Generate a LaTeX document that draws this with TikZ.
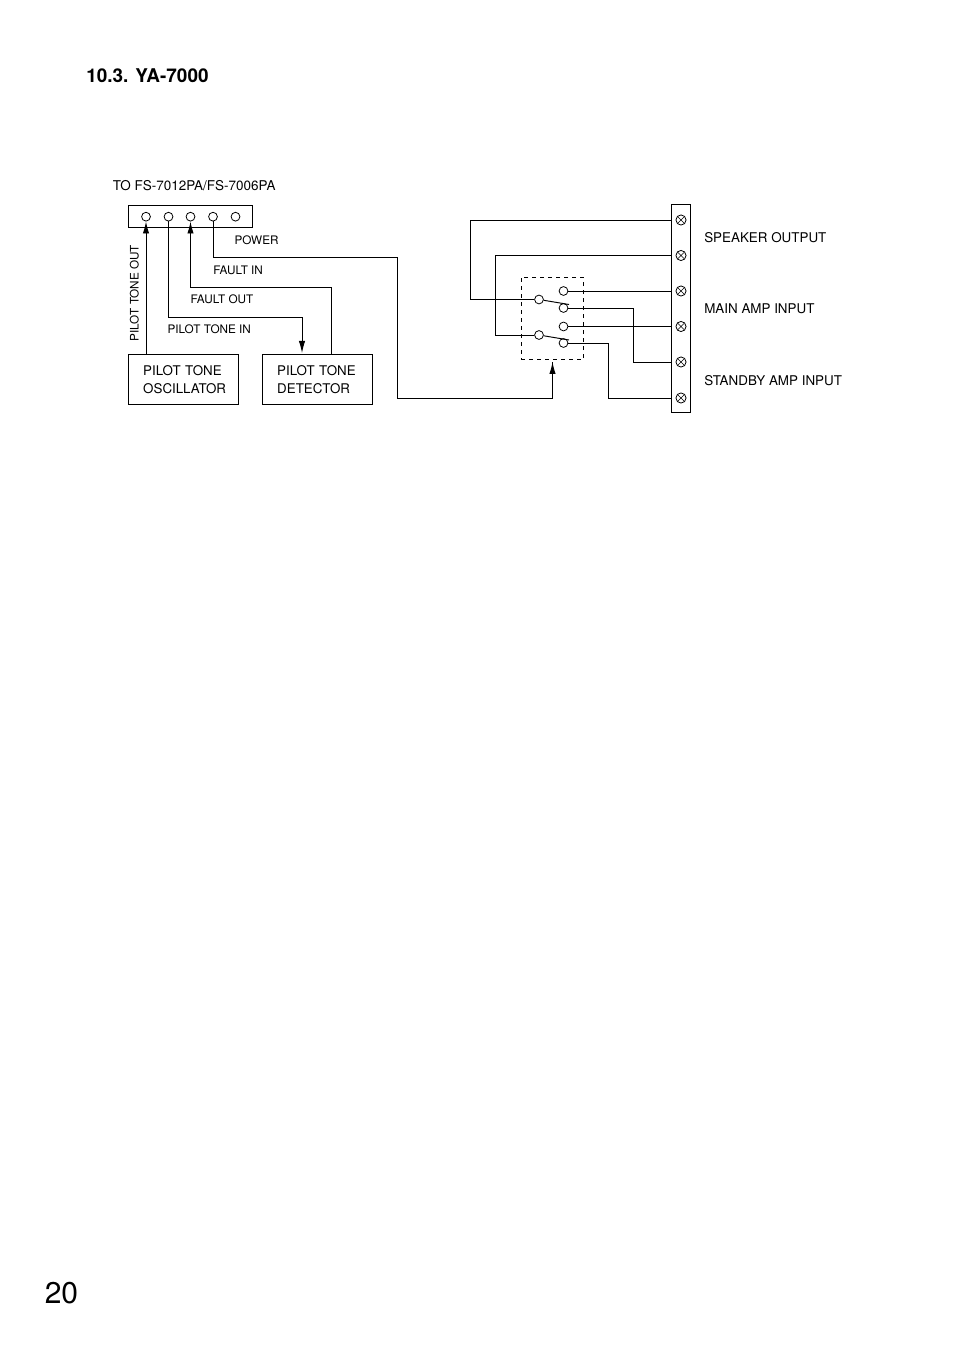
\documentclass[tikz,border=0pt]{standalone}
\usepackage{fontspec}
\usepackage{graphicx, tikz}
\usetikzlibrary{arrows.meta}
\setmainfont{TeX Gyre Heros}

\tikzset{
  wire/.style={line width=0.7pt},
  arrowwire/.style={wire, -{Latex[length=9pt,width=4.8pt]}},
  pin/.style={circle, draw, line width=0.6pt, fill=white, minimum size=6.6pt, inner sep=0pt},
  screw/.style={circle, draw, line width=0.6pt, minimum size=7.6pt, inner sep=0pt,
    path picture={\draw[line width=0.5pt] (path picture bounding box.north west)--(path picture bounding box.south east)
      (path picture bounding box.north east)--(path picture bounding box.south west);}},
  unitbox/.style={draw, line width=0.7pt, minimum width=82.5pt, minimum height=37.5pt, inner xsep=11pt, inner ysep=0pt,
    text width=60.4pt, align=left, font=\fontsize{10}{13.5}\selectfont},
  smalllabel/.style={anchor=base west, inner sep=0pt, font=\fontsize{8.8}{10}\selectfont},
  biglabel/.style={anchor=base west, inner sep=0pt, font=\fontsize{10.05}{12}\selectfont}
}

\begin{document}
\begin{tikzpicture}[x=0.75pt, y=-0.75pt]
          \useasboundingbox (0,0) rectangle (954,1351);
          % heading and page number
          \node[anchor=base west, inner sep=0pt, font=\fontsize{14.2}{16}\selectfont\bfseries] (title) at (86,82.6) {10.3. YA-7000};
          \node[anchor=base west, inner sep=0pt, font=\fontsize{22.5}{26}\selectfont] (page) at (44.5,1303) {20};
          % connector strip
          \node[biglabel, font=\fontsize{10.1}{12}\selectfont] (tolabel) at (112.5,190.6) {TO FS-7012PA/FS-7006PA};
          \node[draw, line width=0.7pt, minimum width=93pt, minimum height=16.5pt, inner sep=0pt] (strip) at (190.5,216.5) {};
          \foreach \n/\x in {1/146,2/168.5,3/190.5,4/213,5/235.5}
            \node[pin] (pin\n) at (\x,216.7) {};
          % boxes
          \node[unitbox] (osc) at (183.5,379.5) {PILOT TONE\\OSCILLATOR};
          \node[unitbox] (det) at (317.5,379.5) {PILOT TONE\\DETECTOR};
          % terminal block
          \node[draw, line width=0.7pt, minimum width=14.25pt, minimum height=156pt, inner sep=0pt] (block) at (681,308.5) {};
          \foreach \n/\y in {1/220,2/255.5,3/291,4/326.5,5/362,6/398}
            \node[screw] (scr\n) at (681,\y) {};
          % switch
          \node[draw, dashed, line width=0.6pt, minimum width=46.9pt, minimum height=61.5pt, inner sep=0pt] (sw) at (552.3,318.5) {};
          \node[pin] (com1) at (539,299.5) {};
          \node[pin] (com2) at (539,335) {};
          \node[pin] (con1) at (563.5,291) {};
          \node[pin] (con2) at (563.5,308) {};
          \node[pin] (con3) at (563.5,326.5) {};
          \node[pin] (con4) at (563.5,343) {};
          \coordinate (blade1) at (569,304.5);
          \coordinate (blade2) at (569,340);
          \draw[wire] (com1)--(blade1);
          \draw[wire] (com2)--(blade2);
          % wires
          \draw[arrowwire] (osc.north -| pin1) -- (pin1);
          \coordinate (pint) at (302,317);
          \draw[arrowwire] (pin2) |- (pint) -- (302,353);
          \coordinate (faultt) at (331,287);
          \draw[arrowwire] (det.north -| faultt) -- (faultt) -| (pin3);
          \coordinate (powa) at (397.5,257.5);
          \coordinate (powb) at (397.5,398.5);
          \coordinate (swin) at (552.5,362);
          \draw[wire] (pin4) |- (powa) -- (powb) -| (swin);
          \draw[arrowwire] (552.5,376) -- (swin);
          \coordinate (spka) at (470.5,220);
          \coordinate (spkb) at (495.5,255.5);
          \draw[wire] (scr1 -| block.west) -- (spka) |- (com1);
          \draw[wire] (scr2 -| block.west) -- (spkb) |- (com2);
          \draw[wire] (con1) -- (con1 -| block.west);
          \draw[wire] (con3) -- (con3 -| block.west);
          \coordinate (maina) at (633.5,308);
          \coordinate (stba) at (608.5,343);
          \draw[wire] (con2) -- (maina) |- (scr5 -| block.west);
          \draw[wire] (con4) -- (stba) |- (scr6 -| block.west);
          % labels
          \node[smalllabel] (powerlabel) at (234.3,245) {POWER};
          \node[smalllabel] (faultinlabel) at (213,275) {FAULT IN};
          \node[smalllabel] (faultoutlabel) at (190.3,304) {FAULT OUT};
          \node[smalllabel] (toneinlabel) at (167.3,334) {PILOT TONE IN};
          \node[smalllabel, rotate=90] (toneoutlabel) at (138.6,341.5) {PILOT TONE OUT};
          \node[biglabel] (spklabel) at (704,242.5) {SPEAKER OUTPUT};
          \node[biglabel] (mainlabel) at (704,313.5) {MAIN AMP INPUT};
          \node[biglabel] (stblabel) at (704,385) {STANDBY AMP INPUT};
\end{tikzpicture}
\end{document}
